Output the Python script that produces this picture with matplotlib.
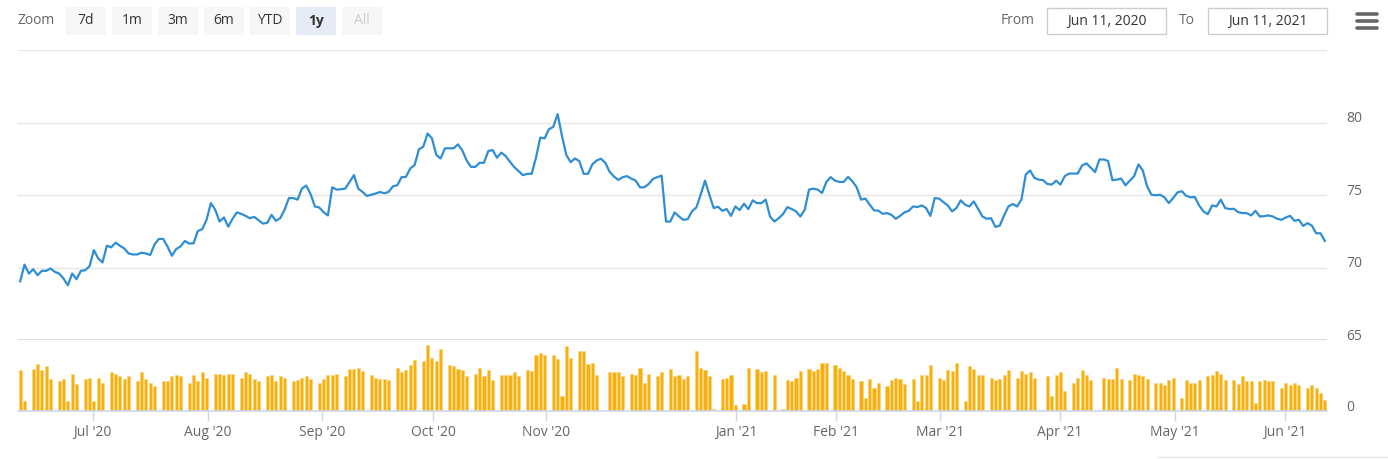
import matplotlib.pyplot as plt
import matplotlib.transforms as mtransforms
import numpy as np
from matplotlib.patches import Rectangle
from matplotlib.lines import Line2D

plt.rcParams['font.family'] = ['Open Sans', 'DejaVu Sans']

# one slot per data point on the ordinal axis (weekend slots carry no volume)
price = [
    69.05, 70.20, 69.58, 69.88, 69.47, 69.77, 69.77, 69.93, 69.70, 69.58,
    69.24, 68.77, 69.58, 69.19, 69.77, 69.81, 70.09, 71.20, 70.63, 70.35,
    71.50, 71.39, 71.71, 71.50, 71.32, 70.97, 70.90, 70.90, 71.02, 70.97,
    70.86, 71.60, 71.97, 71.97, 71.44, 70.81, 71.27, 71.46, 71.83, 71.65,
    71.67, 72.52, 72.64, 73.29, 74.44, 73.98, 73.17, 73.45, 72.82, 73.36,
    73.80, 73.70, 73.56, 73.40, 73.49, 73.26, 73.03, 73.08, 73.63, 73.22,
    73.40, 73.98, 74.79, 74.79, 74.68, 75.44, 75.65, 75.07, 74.21, 74.14,
    73.82, 73.59, 75.53, 75.37, 75.40, 75.44, 75.90, 76.37, 75.44, 75.21,
    74.93, 75.02, 75.10, 75.21, 75.12, 75.21, 75.60, 75.67, 76.23, 76.25,
    76.83, 77.06, 78.15, 78.33, 79.24, 78.91, 77.76, 77.52, 78.22, 78.22,
    78.22, 78.49, 78.08, 77.38, 76.94, 76.94, 77.22, 77.22, 78.03, 78.10,
    77.57, 77.92, 77.69, 77.29, 76.92, 76.64, 76.37, 76.46, 76.46, 77.57,
    78.96, 78.91, 79.54, 79.70, 80.58, 79.07, 77.76, 77.27, 77.52, 77.34,
    76.46, 76.46, 77.11, 77.38, 77.50, 77.22, 76.60, 76.27, 76.04, 76.23,
    76.30, 76.13, 75.99, 75.53, 75.53, 75.76, 76.11, 76.23, 76.34, 73.17,
    73.17, 73.80, 73.52, 73.29, 73.33, 73.87, 74.14, 75.02, 75.99, 75.02,
    74.10, 74.19, 73.91, 74.03, 73.56, 74.21, 73.96, 74.40, 74.03, 74.63,
    74.44, 74.44, 74.68, 73.52, 73.17, 73.40, 73.68, 74.17, 74.03, 73.87,
    73.52, 73.98, 75.37, 75.44, 75.37, 75.14, 75.90, 76.23, 75.99, 75.90,
    75.90, 76.25, 75.95, 75.53, 74.68, 74.75, 74.33, 73.94, 73.92, 73.70,
    73.75, 73.63, 73.36, 73.56, 73.80, 73.91, 74.21, 74.17, 74.28, 74.10,
    73.56, 74.79, 74.75, 74.51, 74.28, 73.87, 74.10, 74.63, 74.33, 74.21,
    74.56, 74.05, 73.52, 73.36, 73.40, 72.80, 72.89, 73.59, 74.21, 74.38,
    74.21, 74.68, 76.41, 76.69, 76.18, 76.06, 76.02, 75.76, 75.72, 75.99,
    75.72, 76.30, 76.48, 76.48, 76.48, 77.04, 77.18, 76.88, 76.58, 77.45,
    77.45, 77.34, 76.02, 76.06, 76.13, 75.67, 75.99, 76.30, 77.11, 76.69,
    75.60, 75.02, 74.98, 75.02, 74.84, 74.44, 74.79, 75.18, 75.26, 74.95,
    74.84, 74.86, 74.28, 73.87, 73.68, 74.28, 74.21, 74.68, 74.10, 74.03,
    74.05, 73.82, 73.75, 73.75, 73.59, 73.91, 73.52, 73.54, 73.59, 73.52,
    73.36, 73.29, 73.45, 73.56, 73.22, 73.29, 72.87, 73.06, 72.89, 72.36,
    72.36, 71.83,
]

volume = [
    41, 10, 0, 42, 47, 41, 45, 32, 0, 30,
    32, 10, 37, 27, 0, 32, 33, 10, 33, 28,
    0, 39, 37, 35, 32, 35, 0, 30, 39, 32,
    28, 25, 0, 30, 30, 35, 36, 35, 0, 28,
    36, 30, 39, 33, 0, 37, 37, 36, 37, 37,
    0, 33, 39, 37, 32, 30, 0, 35, 36, 30,
    35, 33, 0, 30, 31, 33, 35, 32, 0, 28,
    32, 36, 36, 37, 0, 35, 42, 42, 43, 40,
    0, 36, 33, 32, 32, 31, 0, 43, 39, 41,
    46, 51, 0, 50, 66, 53, 50, 62, 0, 46,
    45, 42, 41, 35, 0, 37, 43, 35, 41, 31,
    0, 36, 36, 36, 39, 35, 0, 41, 40, 56,
    58, 56, 0, 56, 52, 15, 65, 53, 0, 60,
    60, 47, 48, 36, 0, 0, 39, 39, 39, 35,
    0, 37, 36, 43, 28, 37, 0, 35, 39, 0,
    42, 35, 36, 32, 35, 0, 60, 43, 41, 35,
    2, 0, 32, 33, 36, 6, 0, 7, 43, 0,
    42, 39, 40, 0, 36, 0, 2, 31, 30, 33,
    40, 0, 42, 40, 42, 48, 48, 0, 46, 43,
    40, 36, 32, 0, 30, 13, 32, 23, 28, 0,
    25, 31, 33, 32, 27, 0, 32, 10, 36, 36,
    46, 0, 33, 31, 41, 40, 48, 0, 10, 45,
    42, 36, 36, 0, 33, 31, 32, 36, 41, 0,
    33, 40, 37, 39, 33, 0, 0, 35, 15, 36,
    39, 20, 0, 28, 33, 41, 36, 31, 0, 0,
    33, 32, 32, 43, 32, 0, 31, 37, 36, 35,
    32, 0, 28, 28, 26, 31, 33, 0, 13, 31,
    28, 28, 31, 0, 35, 36, 40, 37, 31, 0,
    31, 27, 35, 30, 30, 8, 30, 31, 30, 30,
    0, 23, 28, 26, 28, 26, 0, 23, 26, 23,
    18, 11,
]

month_ticks = [16.7, 43.3, 69.7, 95.3, 121.4, 165.2, 188.3, 212.2, 239.8, 266.4, 291.8]
month_labels = ["Jul '20", "Aug '20", "Sep '20", "Oct '20", "Nov '20", "Jan '21",
                "Feb '21", "Mar '21", "Apr '21", "May '21", "Jun '21"]
price_ticks = [65, 70, 75, 80, 85]
price_labels = ['65', '70', '75', '80', '']
zoom_buttons = ['7d', '1m', '3m', '6m', 'YTD', '1y', 'All']
selected_button = '1y'
disabled_button = 'All'
date_from = 'Jun 11, 2020'
date_to = 'Jun 11, 2021'

W, H = 1388, 460
fig = plt.figure(figsize=(W / 100, H / 100), dpi=100)


def fx(px):
    return px / W


def fy(py):
    return 1 - py / H


# y labels sit a little above their grid line
label_shift = mtransforms.ScaledTranslation(0, -3 / 100, fig.dpi_scale_trans)

x = np.arange(len(price))

# price pane
ax = fig.add_axes([fx(18), fy(341), fx(1309), fy(51) - fy(341)])
ax.plot(x, price, color='#2F8ED3', lw=1.6, solid_joinstyle='round')
ax.set_ylim(65, 85)
ax.set_xlim(-0.5, len(price) - 0.5)
ax.set_yticks(price_ticks)
ax.set_yticklabels(price_labels)
ax.yaxis.tick_right()
ax.tick_params(axis='y', length=0, pad=14, labelsize=10, labelcolor='#666666')
for lab in ax.get_yticklabels():
    lab.set_va('bottom')
    lab.set_transform(lab.get_transform() + label_shift)
ax.set_xticks([])
ax.grid(axis='y', color='#e6e6e6', lw=1)
ax.set_axisbelow(True)
for s in ax.spines.values():
    s.set_visible(False)
ax.axhline(65, color='#dcdcdc', lw=2.2, zorder=0)

# volume pane
axv = fig.add_axes([fx(18), fy(412), fx(1309), fy(341) - fy(412)])
axv.bar(x, volume, width=0.72, color='#F7B00A', edgecolor='#FAD27E', linewidth=0.5)
axv.set_xlim(-0.5, len(price) - 0.5)
axv.set_ylim(0, 71.5)
axv.set_yticks([0])
axv.set_yticklabels(['0'])
axv.yaxis.tick_right()
axv.tick_params(axis='y', length=0, pad=14, labelsize=10, labelcolor='#666666')
for lab in axv.get_yticklabels():
    lab.set_va('bottom')
    lab.set_transform(lab.get_transform() + label_shift)
axv.set_xticks(month_ticks)
axv.set_xticklabels(month_labels)
axv.tick_params(axis='x', length=7.5, width=1, color='#ccd6eb', pad=2,
                labelsize=10, labelcolor='#666666')
for name, s in axv.spines.items():
    s.set_visible(name == 'bottom')
axv.spines['bottom'].set_color('#ccd6eb')
axv.spines['bottom'].set_linewidth(1.2)

# range selector toolbar
fig.text(fx(18), fy(21), 'Zoom', fontsize=10, color='#666666', va='center', ha='left')
for i, label in enumerate(zoom_buttons):
    left = 66 + i * 46
    face = '#e6ebf5' if label == selected_button else '#f7f7f7'
    fig.patches.append(Rectangle((fx(left), fy(36)), fx(40), fy(8) - fy(36),
                                 transform=fig.transFigure, facecolor=face,
                                 edgecolor='none'))
    color = '#cccccc' if label == disabled_button else '#333333'
    weight = 'bold' if label == selected_button else 'normal'
    fig.text(fx(left + 20), fy(21), label, fontsize=10, color=color,
             fontweight=weight, ha='center', va='center')

fig.text(fx(1001), fy(21), 'From', fontsize=10, color='#666666', va='center', ha='left')
fig.text(fx(1179), fy(21), 'To', fontsize=10, color='#666666', va='center', ha='left')
for left, txt in [(1047, date_from), (1208, date_to)]:
    fig.patches.append(Rectangle((fx(left), fy(35)), fx(119), fy(9) - fy(35),
                                 transform=fig.transFigure, facecolor='white',
                                 edgecolor='#cccccc', lw=1))
    fig.text(fx(left + 59.5), fy(21), txt, fontsize=10, color='#333333',
             ha='center', va='center')

# context menu icon
for yy in [15, 22, 29]:
    fig.lines.append(Line2D([fx(1357), fx(1377)], [fy(yy), fy(yy)],
                            transform=fig.transFigure, color='#666666', lw=2.6,
                            solid_capstyle='round'))

fig.lines.append(Line2D([fx(1158), fx(1388)], [fy(458), fy(458)],
                        transform=fig.transFigure, color='#e6e6e6', lw=1))

fig.savefig('out.png', dpi=100)
